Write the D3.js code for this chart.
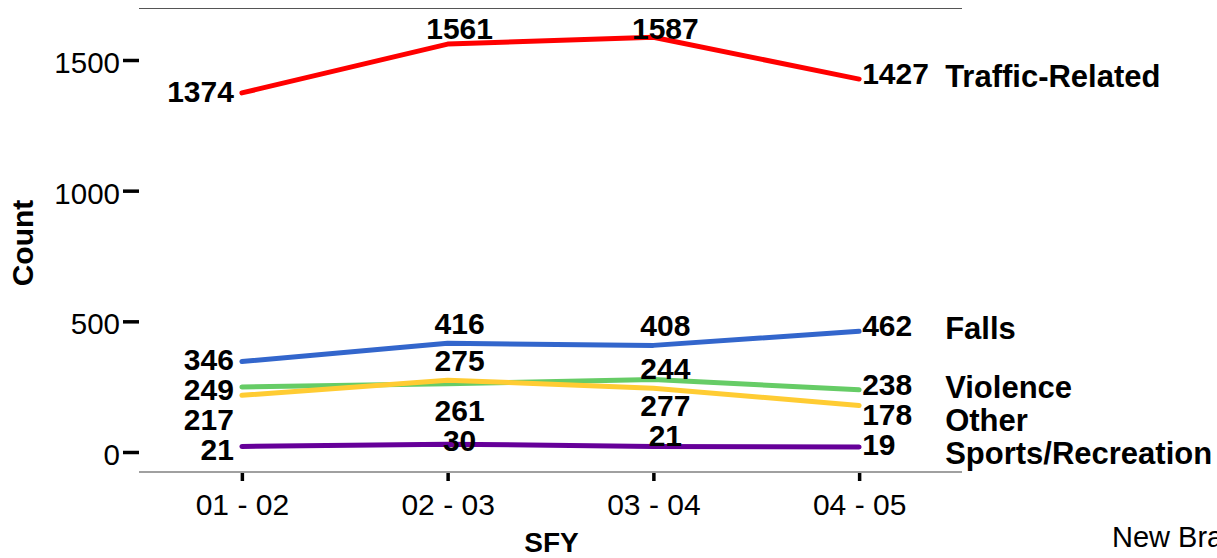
<!DOCTYPE html>
<html>
<head>
<meta charset="utf-8">
<script src="https://cdn.jsdelivr.net/npm/d3@7"></script>
<style>
  body { margin: 0; background: #fff; }
  svg text { font-family: "Liberation Sans", Arial, sans-serif; }
</style>
</head>
<body>
<div id="chart"></div>
<script>
// data
const years = ['01 - 02', '02 - 03', '03 - 04', '04 - 05'];
const seriesNames = ['Traffic-Related', 'Falls', 'Violence', 'Other', 'Sports/Recreation'];
const traffic = [1374, 1561, 1587, 1427];
const falls = [346, 416, 408, 462];
const violence = [249, 261, 277, 238];
const other = [217, 275, 244, 178];
const sports = [21, 30, 21, 19];
const yTicks = [0, 500, 1000, 1500];

const seriesValues = [traffic, falls, violence, other, sports];
const seriesColors = ['#ff0000', '#3366cc', '#66cc66', '#ffcc33', '#660099'];
// where the middle labels sit relative to their point
const middleSide = ['above', 'above', 'below', 'above', 'above'];

const width = 1217, height = 558;
const panel = { left: 139, right: 962, top: 8, bottom: 472 };

const svg = d3.select('#chart')
  .append('svg')
  .attr('width', width)
  .attr('height', height);

const x = d3.scalePoint()
  .domain(years)
  .range([panel.left, panel.right])
  .padding(0.5);

const y = d3.scaleLinear()
  .domain([0, 1500])
  .range([452, 60]);

// panel borders
svg.append('line')
  .attr('x1', panel.left).attr('x2', panel.right)
  .attr('y1', panel.top + 0.5).attr('y2', panel.top + 0.5)
  .attr('stroke', '#555').attr('stroke-width', 1);

svg.append('line')
  .attr('x1', panel.left).attr('x2', panel.right)
  .attr('y1', panel.bottom).attr('y2', panel.bottom)
  .attr('stroke', '#a0a0a0').attr('stroke-width', 2);

// y axis
const yAxis = svg.append('g')
  .attr('transform', `translate(${panel.left},0)`)
  .call(d3.axisLeft(y).tickValues(yTicks).tickFormat(d3.format('d')).tickSize(16).tickPadding(3));
yAxis.select('.domain').remove();
yAxis.selectAll('.tick line').style('stroke', '#000').style('stroke-width', '3.5px');
yAxis.selectAll('.tick text')
  .style('font-size', '29.5px')
  .attr('dy', '0.42em')
  .attr('fill', '#000');

// x axis
const xAxis = svg.append('g')
  .attr('transform', `translate(0,${panel.bottom + 1})`)
  .call(d3.axisBottom(x).tickSize(8).tickPadding(13));
xAxis.select('.domain').remove();
xAxis.selectAll('.tick line').style('stroke', '#000').style('stroke-width', '3.5px');
xAxis.selectAll('.tick text')
  .style('font-size', '30px')
  .attr('fill', '#000');

// axis titles
svg.append('text')
  .attr('x', x(years[0]) + (x(years[3]) - x(years[0])) / 2 + 1)
  .attr('y', 552)
  .attr('text-anchor', 'middle')
  .attr('font-size', 28)
  .attr('font-weight', 'bold')
  .text('SFY');

svg.append('text')
  .attr('transform', `translate(33,${(y(0) + y(1500)) / 2 - 13}) rotate(-90)`)
  .attr('text-anchor', 'middle')
  .attr('font-size', 30)
  .attr('font-weight', 'bold')
  .text('Count');

svg.append('text')
  .attr('x', 1112)
  .attr('y', 547)
  .attr('font-size', 29)
  .text('New Brain Injury Cases');

// lines
const line = d3.line()
  .x((d, i) => x(years[i]))
  .y(d => y(d));

svg.append('g')
  .selectAll('path')
  .data(seriesValues)
  .join('path')
  .attr('d', line)
  .attr('fill', 'none')
  .attr('stroke', (d, i) => seriesColors[i])
  .attr('stroke-width', 5)
  .attr('stroke-linecap', 'round')
  .attr('stroke-linejoin', 'round');

// simple push-down so labels in a column do not overlap
function spread(items, gap, minY) {
  items.sort((a, b) => a.y - b.y);
  let prev = -Infinity;
  items.forEach(it => {
    it.y = Math.max(it.y, prev + gap, minY);
    prev = it.y;
  });
  return items;
}

const labels = [];
years.forEach((yr, j) => {
  let items = seriesValues.map((vals, s) => {
    let dy = 0;
    if (j === 0) dy = -2;
    else if (j === years.length - 1) dy = -6;
    else dy = middleSide[s] === 'below' ? 26 : -20;
    return { value: vals[j], s, j, y: y(vals[j]) + dy };
  });
  spread(items, 30, panel.top + 20).forEach(it => labels.push(it));
});

svg.append('g')
  .selectAll('text')
  .data(labels)
  .join('text')
  .attr('x', d => {
    const cx = x(years[d.j]);
    if (d.j === 0) return cx - 8;
    if (d.j === years.length - 1) return cx + 3;
    return cx + 12;
  })
  .attr('y', d => d.y)
  .attr('dy', '0.36em')
  .attr('text-anchor', d => d.j === 0 ? 'end' : (d.j === years.length - 1 ? 'start' : 'middle'))
  .attr('font-size', 30)
  .attr('font-weight', 'bold')
  .attr('fill', '#000')
  .text(d => d.value);

// series names at the right end
const last = years.length - 1;
const names = spread(seriesValues.map((vals, s) => ({ s, y: y(vals[last]) - 3 })), 33, panel.top);

svg.append('g')
  .selectAll('text')
  .data(names)
  .join('text')
  .attr('x', x(years[last]) + 86)
  .attr('y', d => d.y)
  .attr('dy', '0.36em')
  .attr('font-size', 31)
  .attr('font-weight', 'bold')
  .attr('fill', '#000')
  .text(d => seriesNames[d.s]);
</script>
</body>
</html>
